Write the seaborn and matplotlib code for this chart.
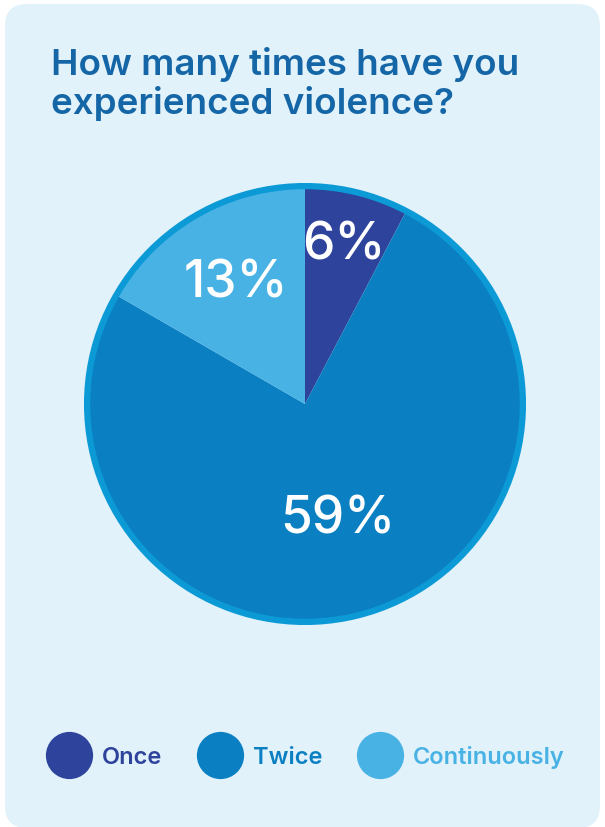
import matplotlib
matplotlib.use("Agg")
import matplotlib.pyplot as plt
from matplotlib.patches import FancyBboxPatch, Circle
from matplotlib.lines import Line2D
import numpy as np
import seaborn as sns

# Survey answers
categories = ["Once", "Twice", "Continuously"]
shares = [6, 59, 13]
value_labels = ["6%", "59%", "13%"]
title_lines = ["How many times have you", "experienced violence?"]

colors = ["#2e439b", "#0a80c2", "#48b2e4"]
ring_color = "#0b9ad6"
card_color = "#e2f2fb"
title_color = "#1566a6"

sns.set_theme(style="white")
plt.rcParams["font.family"] = ["Inter", "DejaVu Sans"]

W, H = 605, 828
fig = plt.figure(figsize=(W / 100, H / 100), dpi=100)
fig.patch.set_facecolor("white")

# Background card in pixel coordinates
bg = fig.add_axes([0, 0, 1, 1])
bg.set_xlim(0, W)
bg.set_ylim(H, 0)
bg.axis("off")
bg.add_patch(FancyBboxPatch((5, 5), W - 10, H - 4, boxstyle="round,pad=0,rounding_size=22",
                            facecolor=card_color, edgecolor="none"))
for i, line in enumerate(title_lines):
    bg.text(51, 75 + 39 * i, line, color=title_color, fontsize=26.5, fontweight=600,
            va="baseline", ha="left")

# Pie
cx, cy, r = 305, 405, 221
pie_ax = fig.add_axes([(cx - r) / W, (H - cy - r) / H, 2 * r / W, 2 * r / H])
wedges, _ = pie_ax.pie(shares, colors=colors, startangle=90, counterclock=False,
                       radius=0.975, wedgeprops=dict(linewidth=0))
pie_ax.set_xlim(-1, 1)
pie_ax.set_ylim(-1, 1)
pie_ax.axis("off")
pie_ax.add_patch(Circle((0, 0), 0.986, fill=False, edgecolor=ring_color, linewidth=4.5))

label_dist = [0.74, 0.54, 0.63]
for w, lab, d in zip(wedges, value_labels, label_dist):
    ang = np.deg2rad((w.theta1 + w.theta2) / 2)
    pie_ax.text(d * np.cos(ang), d * np.sin(ang), lab, color="white", fontsize=37,
                fontweight=500, ha="center", va="center")

# Legend
handles = [Line2D([], [], marker="o", linestyle="none", markersize=34,
                  markerfacecolor=c, markeredgecolor="none") for c in colors]
leg = fig.legend(handles, categories, loc="center", bbox_to_anchor=(305 / W, 1 - 758 / H),
                 ncol=3, frameon=False, fontsize=17, labelcolor="markerfacecolor",
                 handletextpad=0.4, columnspacing=1.45, handlelength=2.0, borderpad=0)
for t in leg.get_texts():
    t.set_fontweight(600)

fig.savefig("out.png", dpi=100, facecolor="white")
